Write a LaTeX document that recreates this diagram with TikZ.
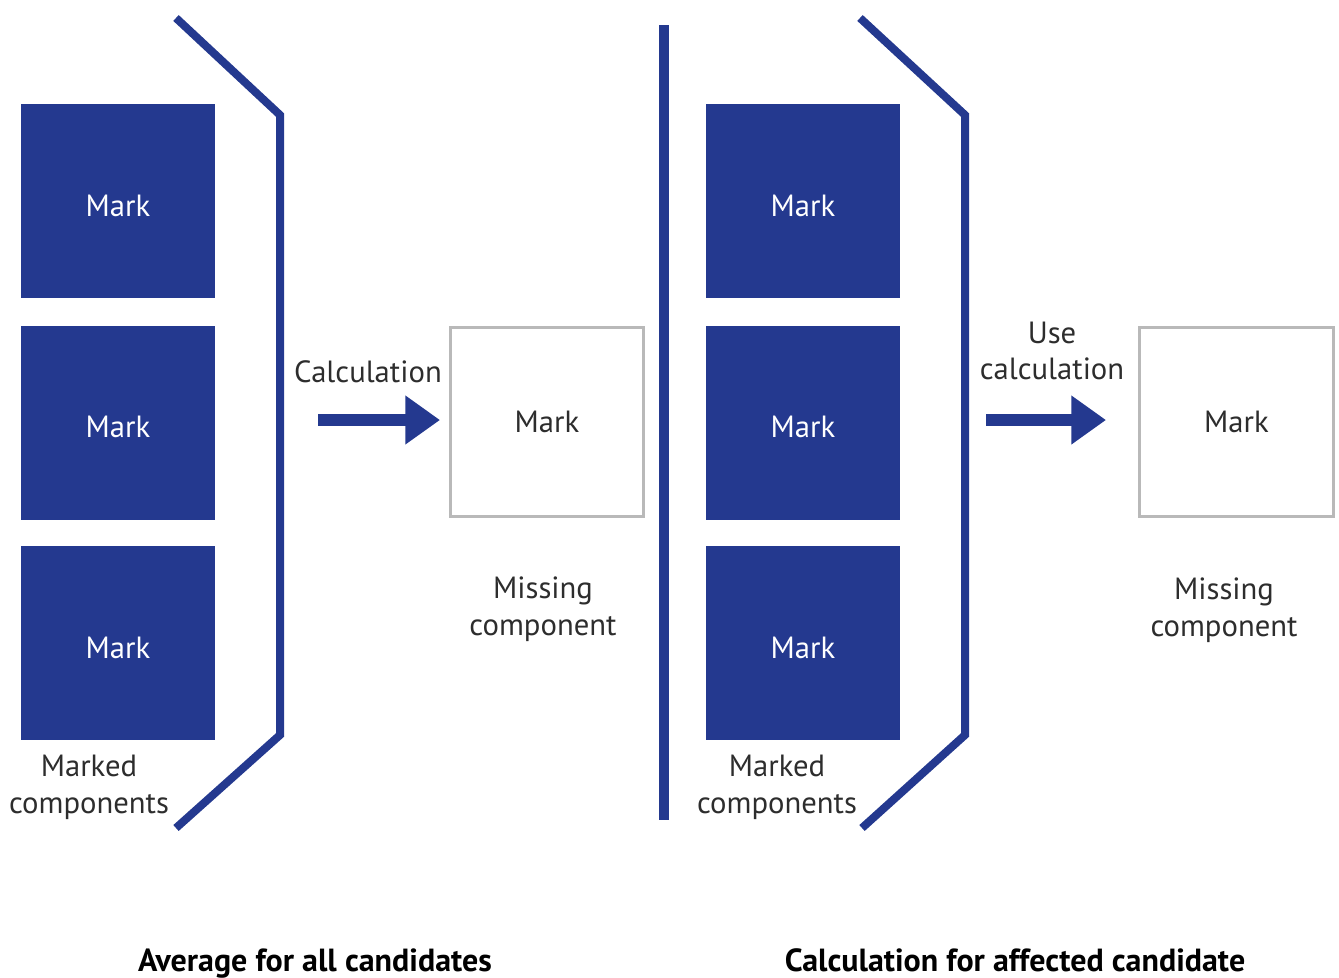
\documentclass[tikz,border=0pt]{standalone}
\usepackage{fontspec}
\setmainfont{PT Sans}
\usetikzlibrary{arrows.meta}
\definecolor{markblue}{RGB}{36,57,143}
\definecolor{labelgrey}{RGB}{45,45,45}
\definecolor{boxgrey}{RGB}{185,185,185}
\newcommand{\marktext}{\raisebox{-3.5pt}{Mark}}
\begin{document}
\begin{tikzpicture}[x=0.75pt,y=-0.75pt,
  markbox/.style={fill=markblue,draw=none,minimum width=145.5pt,minimum height=145.5pt,inner sep=0pt,text height=16pt,text depth=0pt,text=white,font=\fontsize{23}{26}\selectfont},
  missbox/.style={fill=white,draw=boxgrey,line width=2.2pt,minimum width=145pt,minimum height=142pt,inner sep=0pt,text=labelgrey,font=\fontsize{23}{26}\selectfont},
  lbl/.style={text=labelgrey,align=center,font=\fontsize{23}{27.5}\selectfont,inner sep=0pt},
  title/.style={text=black,font=\bfseries\fontsize{24}{26}\selectfont,inner sep=0pt,anchor=base},
  bracket/.style={draw=markblue,line width=6pt},
  bigarrow/.style={draw=markblue,line width=9pt,-{Triangle[length=26pt,width=35pt]}}]
\useasboundingbox (0,0) rectangle (1339,978);

% ---- left panel: average for all candidates
\node[markbox] (l1) at (118,201) {\marktext};
\node[markbox] (l2) at (118,422.5) {\marktext};
\node[markbox] (l3) at (118,643) {\marktext};
\draw[bracket] (176,18) -- (280,115) -- (280,735) -- (176,828);
\node[lbl] (lmc) at (89,787) {Marked\\components};
\coordinate (la0) at (318,420);
\coordinate (la1) at (440,420);
\draw[bigarrow] (la0) -- (la1);
\node[lbl] (lcalc) at (368,372) {Calculation};
\node[missbox] (lm) at (547,422) {Mark};
\node[lbl] (lmiss) at (543,609) {Missing\\component};
\node[title] (ltitle) at (315,971) {Average for all candidates};

% ---- divider
\coordinate (d0) at (664,25);
\coordinate (d1) at (664,820);
\draw[markblue,line width=7pt] (d0) -- (d1);

% ---- right panel: calculation for affected candidate
\node[markbox] (r1) at (803,201) {\marktext};
\node[markbox] (r2) at (803,422.5) {\marktext};
\node[markbox] (r3) at (803,643) {\marktext};
\draw[bracket] (860,18) -- (965,115) -- (965,735) -- (862,828);
\node[lbl] (rmc) at (777,787) {Marked\\components};
\coordinate (ra0) at (986,420);
\coordinate (ra1) at (1106,420);
\draw[bigarrow] (ra0) -- (ra1);
\node[lbl] (rcalc) at (1052,351) {Use\\calculation};
\node[missbox] (rm) at (1236.5,422) {Mark};
\node[lbl] (rmiss) at (1224,610) {Missing\\component};
\node[title] (rtitle) at (1015,971) {Calculation for affected candidate};
\end{tikzpicture}
\end{document}
